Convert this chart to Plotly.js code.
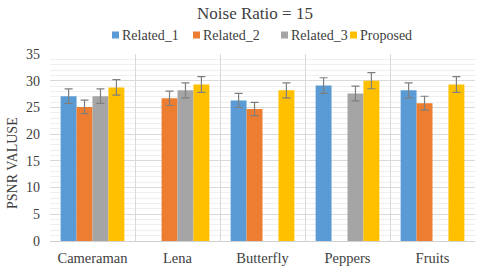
<!DOCTYPE html>
<html><head><meta charset="utf-8">
<script src="https://cdn.plot.ly/plotly-3.0.1.min.js"></script>
<style>html,body{margin:0;padding:0;background:#fff}#c{width:480px;height:271px}</style>
</head><body><div id="c"></div>
<script>
const categories = ["Cameraman", "Lena", "Butterfly", "Peppers", "Fruits"];
const related1 = [27.1, null, 26.3, 29.1, 28.2];
const related2 = [25.1, 26.7, 24.7, null, 25.8];
const related3 = [27.1, 28.2, null, 27.6, null];
const proposed = [28.75, 29.3, 28.2, 30.0, 29.3];
const seriesNames = ["Related_1", "Related_2", "Related_3", "Proposed"];
const colors = ["#5B9BD5", "#ED7D31", "#A5A5A5", "#FFC000"];
const values = [related1, related2, related3, proposed];

const FAM = "'Times New Roman', 'Liberation Serif', Times, serif";
const TXT = "#404040";
const traces = values.map((v, i) => ({
  type: "bar", x: categories, y: v, name: seriesNames[i],
  marker: {color: colors[i]},
  error_y: {type: "percent", value: 5, visible: true, color: "#7f7f7f", thickness: 1.2, width: 4}
}));

const legendX = [112, 193, 281, 350];
const W = 480, H = 271, ML = 50, MR = 5, MT = 54, MB = 30;
const pw = W - ML - MR, ph = H - MT - MB;
const px = x => (x - ML) / pw;
const py = y => (H - MB - y) / ph;
const shapes = [], annotations = [];
seriesNames.forEach((n, i) => {
  shapes.push({type: "rect", xref: "paper", yref: "paper", x0: px(legendX[i]), x1: px(legendX[i] + 7),
    y0: py(38.5), y1: py(31.5), fillcolor: colors[i], line: {width: 0}});
  annotations.push({xref: "paper", yref: "paper", x: px(legendX[i] + 8), y: py(35), xanchor: "left", yanchor: "middle",
    text: n, showarrow: false, font: {family: FAM, size: 14, color: TXT}});
});
annotations.push({xref: "paper", yref: "paper", x: px(12), y: py(163), xanchor: "center", yanchor: "middle",
  text: "PSNR VALUSE", textangle: -90, showarrow: false, font: {family: FAM, size: 14, color: TXT}});

Plotly.newPlot("c", traces, {
  width: W, height: H,
  margin: {l: ML, r: MR, t: MT, b: MB},
  paper_bgcolor: "#fff", plot_bgcolor: "#fff",
  font: {family: FAM, size: 13, color: TXT},
  title: {text: "Noise Ratio = 15", xref: "paper", x: px(255), xanchor: "center", y: 1 - 13 / H, yanchor: "middle", font: {family: FAM, size: 17, color: TXT}},
  showlegend: false,
  shapes: shapes, annotations: annotations,
  barmode: "group", bargap: 0.25, bargroupgap: 0,
  xaxis: {type: "category", tickson: "boundaries", showgrid: true, gridcolor: "#d9d9d9", ticks: "", showline: true, linecolor: "#d0d0d0",
    tickfont: {family: FAM, size: 14.5, color: TXT}, ticklabelstandoff: 4, fixedrange: true},
  yaxis: {range: [0, 35], dtick: 5, showgrid: true, gridcolor: "#d9d9d9", zeroline: false, ticks: "",
    tickfont: {family: FAM, size: 14, color: TXT}, ticklabelstandoff: 9,
    minor: {dtick: 1, showgrid: true, gridcolor: "#efefef"}}
}, {displayModeBar: false, staticPlot: true});
</script></body></html>
